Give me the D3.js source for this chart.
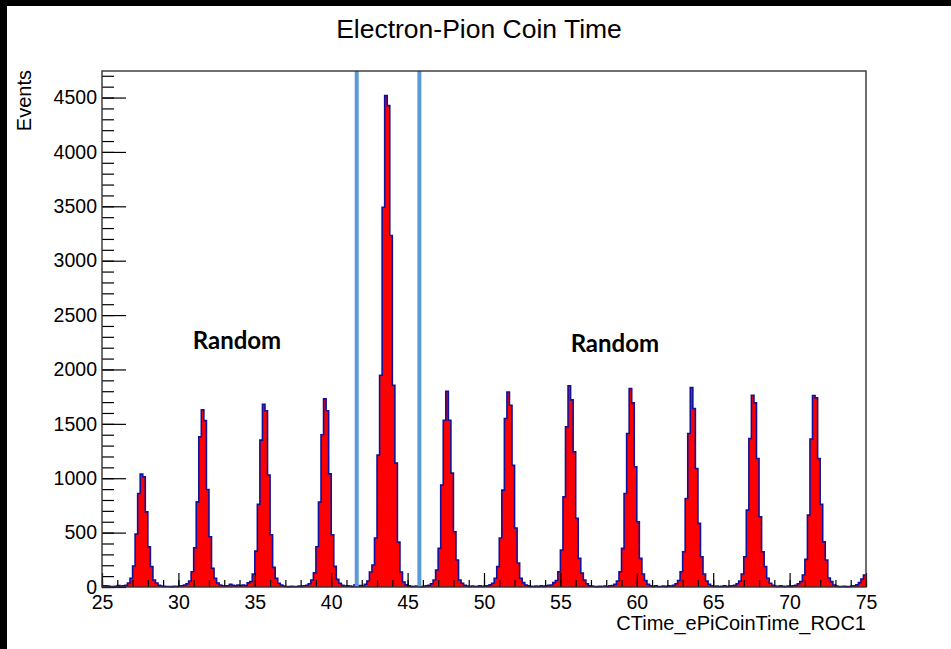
<!DOCTYPE html>
<html>
<head>
  <title>Electron-Pion Coin Time</title>
  <script src="https://d3js.org/d3.v7.min.js"></script>
  <style>
    body { margin: 0; background: #fff; }
    svg { display: block; font-family: "Liberation Sans", Arial, sans-serif; }
  </style>
</head>
<body>
  <svg id="chart" width="951" height="649"></svg>

  <script>
    // Histogram: 300 bins between 25 and 75 ns (one row = one 4 ns bunch period)
    const xRange = [25, 75];
    const counts = [
      10, 12, 8, 5, 3, 6, 14, 8, 10, 15, 37, 80, 193, 487, 860, 1038, 1013, 691, 370, 187, 64, 37, 15, 8,
      6, 4, 5, 3, 6, 4, 8, 10, 18, 30, 55, 140, 361, 783, 1380, 1630, 1530, 897, 462, 172, 80, 37, 18, 10,
      8, 12, 25, 15, 10, 18, 12, 18, 14, 38, 50, 120, 330, 760, 1350, 1680, 1620, 1030, 480, 180, 80, 35, 18, 8,
      5, 3, 6, 4, 5, 8, 6, 10, 15, 30, 65, 130, 370, 780, 1400, 1730, 1620, 1040, 480, 190, 70, 35, 15, 8,
      12, 8, 5, 20, 6, 14, 8, 25, 55, 138, 202, 450, 1212, 1947, 3492, 4518, 4426, 3232, 1855, 1139, 413, 138, 46, 20,
      10, 6, 4, 8, 5, 3, 6, 10, 15, 30, 64, 156, 355, 937, 1533, 1800, 1533, 1047, 508, 248, 64, 35, 15, 8,
      5, 8, 4, 6, 10, 5, 8, 12, 20, 35, 80, 187, 450, 891, 1549, 1793, 1671, 1120, 542, 220, 80, 40, 18, 10,
      6, 4, 8, 5, 10, 6, 12, 15, 18, 40, 60, 140, 340, 829, 1472, 1850, 1720, 1242, 631, 263, 128, 64, 30, 12,
      8, 5, 3, 6, 4, 8, 5, 10, 14, 25, 55, 140, 355, 860, 1411, 1825, 1693, 1105, 600, 263, 120, 60, 25, 10,
      6, 10, 5, 4, 8, 5, 10, 8, 15, 30, 60, 140, 324, 814, 1411, 1834, 1641, 1090, 585, 278, 120, 55, 25, 10,
      5, 8, 4, 6, 10, 5, 8, 12, 15, 30, 55, 120, 278, 707, 1365, 1763, 1693, 1182, 646, 324, 187, 80, 35, 15,
      8, 5, 10, 6, 4, 8, 6, 12, 15, 30, 50, 110, 254, 661, 1360, 1760, 1740, 1180, 760, 416, 248, 83, 49, 18,
      8, 5, 4, 6, 3, 5, 8, 12, 20, 40, 73, 110
    ];
    const yMax = 4744;

    // Axis ticks
    const xTicks = [25, 30, 35, 40, 45, 50, 55, 60, 65, 70, 75];
    const yTicks = [0, 500, 1000, 1500, 2000, 2500, 3000, 3500, 4000, 4500];

    // Coincidence window cuts and annotations
    const cutLines = [41.67, 45.77];
    const labelText = ['Random', 'Random'];
    const labelX = [30.94, 55.67];
    const labelY = [2192, 2158];

    const plot = { left: 102, right: 866, top: 71, bottom: 587 };

    const x = d3.scaleLinear().domain(xRange).range([plot.left, plot.right]);
    const y = d3.scaleLinear().domain([0, yMax]).range([plot.bottom, plot.top]);

    const svg = d3.select('#chart');

    // white page with black strips top and left (screenshot edge)
    svg.append('rect').attr('width', 951).attr('height', 649).attr('fill', '#fff');
    svg.append('rect').attr('width', 951).attr('height', 6).attr('fill', '#000');
    svg.append('rect').attr('width', 7).attr('height', 649).attr('fill', '#000');

    // bin edges -> step points
    const binW = (xRange[1] - xRange[0]) / counts.length;
    const pts = counts.map((c, i) => [xRange[0] + i * binW, c]);
    pts.push([xRange[1], counts[counts.length - 1]]);

    const area = d3.area()
      .x(d => x(d[0]))
      .y0(y(0))
      .y1(d => y(d[1]))
      .curve(d3.curveStepAfter);

    const line = d3.line()
      .x(d => x(d[0]))
      .y(d => y(d[1]))
      .curve(d3.curveStepAfter);

    svg.append('path')
      .datum(pts)
      .attr('d', area)
      .attr('fill', '#ff0000');

    svg.append('path')
      .datum(pts)
      .attr('d', line)
      .attr('fill', 'none')
      .attr('stroke', '#10109a')
      .attr('stroke-width', 1.6);

    // cut lines
    svg.selectAll('line.cut')
      .data(cutLines)
      .join('line')
      .attr('class', 'cut')
      .attr('x1', d => x(d)).attr('x2', d => x(d))
      .attr('y1', plot.top).attr('y2', plot.bottom)
      .attr('stroke', '#5b9bd5')
      .attr('stroke-width', 4);

    const fmt = d3.format('d');

    // y axis: major and minor ticks drawn inside the frame
    const yMinor = d3.range(0, yMax, 100);
    svg.append('g')
      .attr('transform', `translate(${plot.left},0)`)
      .call(d3.axisLeft(y).tickValues(yMinor).tickSize(-12).tickFormat(''))
      .call(g => g.select('.domain').remove());

    svg.append('g')
      .attr('transform', `translate(${plot.left},0)`)
      .call(d3.axisLeft(y).tickValues(yTicks).tickSize(-24).tickPadding(5).tickFormat(fmt))
      .call(g => g.select('.domain').remove())
      .call(g => g.selectAll('text').attr('font-size', 19.5).attr('fill', '#000')
        .attr('font-family', '"Liberation Sans", Arial, sans-serif'));

    // x axis
    const xMinor = d3.range(xRange[0], xRange[1] + 1, 1);
    svg.append('g')
      .attr('transform', `translate(0,${plot.bottom})`)
      .call(d3.axisBottom(x).tickValues(xMinor).tickSize(-7).tickFormat(''))
      .call(g => g.select('.domain').remove());

    svg.append('g')
      .attr('transform', `translate(0,${plot.bottom})`)
      .call(d3.axisBottom(x).tickValues(xTicks).tickSize(-14).tickPadding(8).tickFormat(fmt))
      .call(g => g.select('.domain').remove())
      .call(g => g.selectAll('text').attr('font-size', 19.5).attr('fill', '#000')
        .attr('font-family', '"Liberation Sans", Arial, sans-serif'));

    svg.selectAll('.tick line').attr('stroke', '#000').attr('stroke-width', 1.2);

    // frame
    svg.append('rect')
      .attr('x', plot.left).attr('y', plot.top)
      .attr('width', plot.right - plot.left)
      .attr('height', plot.bottom - plot.top)
      .attr('fill', 'none')
      .attr('stroke', '#333')
      .attr('stroke-width', 1.4);

    // titles
    svg.append('text')
      .attr('x', 479).attr('y', 38)
      .attr('text-anchor', 'middle')
      .attr('font-size', 26.5)
      .text('Electron-Pion Coin Time');

    svg.append('text')
      .attr('x', plot.right).attr('y', 630)
      .attr('text-anchor', 'end')
      .attr('font-size', 20)
      .text('CTime_ePiCoinTime_ROC1');

    svg.append('text')
      .attr('transform', `translate(31,${plot.top - 1}) rotate(-90)`)
      .attr('text-anchor', 'end')
      .attr('font-size', 20)
      .text('Events');

    // annotations
    svg.selectAll('text.note')
      .data(labelText)
      .join('text')
      .attr('class', 'note')
      .attr('x', (d, i) => x(labelX[i]))
      .attr('y', (d, i) => y(labelY[i]))
      .attr('font-family', 'Lato, "Open Sans", sans-serif')
      .attr('font-weight', 700)
      .attr('font-size', 24)
      .text(d => d);
  </script>
</body>
</html>
